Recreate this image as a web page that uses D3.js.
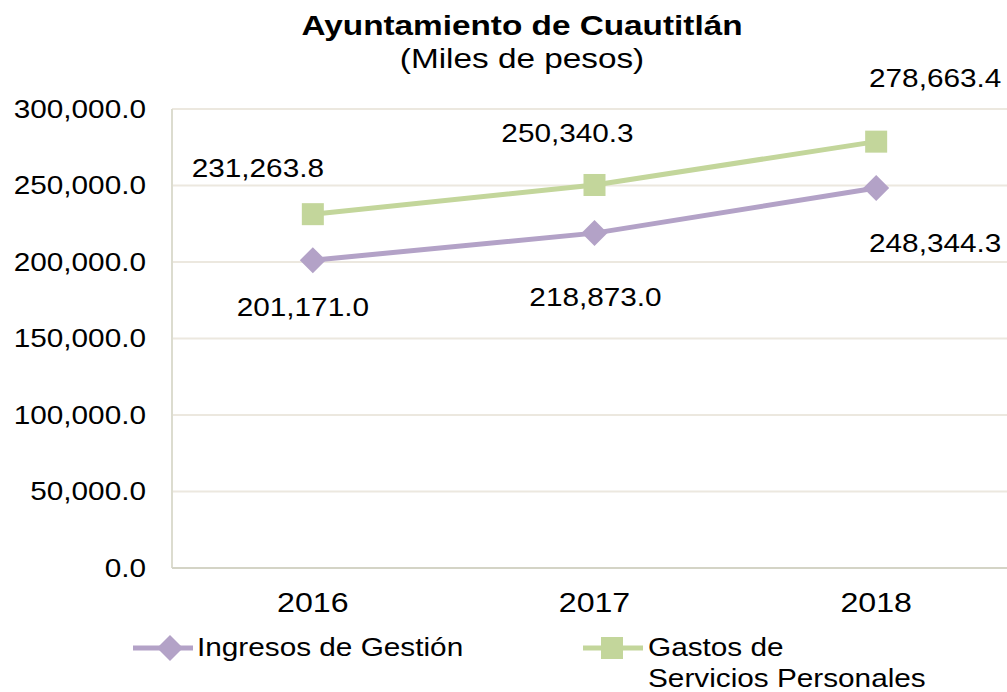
<!DOCTYPE html>
<html>
<head>
<meta charset="utf-8">
<script src="https://cdn.jsdelivr.net/npm/d3@7"></script>
<style>
  body { margin: 0; background: #fff; }
  svg { font-family: "Liberation Sans", Arial, sans-serif; }
</style>
</head>
<body>
<div id="chart"></div>
<script>
const years = ["2016", "2017", "2018"];
const ingresos = [201171.0, 218873.0, 248344.3];
const gastos = [231263.8, 250340.3, 278663.4];
const yTicks = [0, 50000, 100000, 150000, 200000, 250000, 300000];

const W = 1007, H = 692;
const margin = { top: 109, left: 172, bottom: 124 };
const plotW = 845, plotH = H - margin.top - margin.bottom;
const SX = 1.19; // text in the original is stretched horizontally

const svg = d3.select("#chart").append("svg")
    .attr("width", W)
    .attr("height", H);

const x = d3.scaleBand().domain(years).range([margin.left, margin.left + plotW]);
const y = d3.scaleLinear().domain([0, 300000]).range([margin.top + plotH, margin.top]);
const fmt = d3.format(",.1f");

// stretched text helper
function label(g, tx, ty, txt, size, anchor, bold) {
    const t = g.append("text")
        .attr("transform", `translate(${tx},${ty}) scale(${SX},1)`)
        .attr("dy", "0.35em")
        .attr("text-anchor", anchor || "middle")
        .style("font-size", size + "px")
        .attr("fill", "#000")
        .text(txt);
    if (bold) t.style("font-weight", "bold");
    return t;
}

// gridlines
svg.append("g").selectAll("line")
    .data(yTicks.filter(d => d > 0))
    .enter().append("line")
    .attr("x1", margin.left).attr("x2", margin.left + plotW)
    .attr("y1", d => y(d)).attr("y2", d => y(d))
    .attr("stroke", "#ece8df").attr("stroke-width", 2);

// axes lines
svg.append("line")
    .attr("x1", margin.left).attr("x2", margin.left)
    .attr("y1", y(300000)).attr("y2", y(0))
    .attr("stroke", "#dcdccf").attr("stroke-width", 2);
svg.append("line")
    .attr("x1", margin.left).attr("x2", margin.left + plotW)
    .attr("y1", y(0)).attr("y2", y(0))
    .attr("stroke", "#d4d4c6").attr("stroke-width", 2);

// y tick labels
const yl = svg.append("g");
yTicks.forEach(d => label(yl, 146, y(d), fmt(d), 25, "end"));

// x tick labels
const xl = svg.append("g");
years.forEach(d => label(xl, x(d) + x.bandwidth() / 2, 603, d, 27));

const cx = d => x(d) + x.bandwidth() / 2;
const line = d3.line().x(d => cx(d[0])).y(d => y(d[1]));

const series = [
    { name: "ingresos", values: ingresos, color: "#b3a2c7", marker: "diamond" },
    { name: "gastos", values: gastos, color: "#c3d69b", marker: "square" }
];

function drawMarker(g, type, px, py, color) {
    if (type === "square") {
        g.append("rect")
            .attr("x", px - 11).attr("y", py - 11)
            .attr("width", 22).attr("height", 22)
            .attr("fill", color);
    } else {
        g.append("path")
            .attr("d", `M${px},${py - 13}L${px + 13},${py}L${px},${py + 13}L${px - 13},${py}Z`)
            .attr("fill", color);
    }
}

series.forEach(s => {
    const pts = years.map((yr, i) => [yr, s.values[i]]);
    svg.append("path")
        .datum(pts)
        .attr("d", line)
        .attr("fill", "none")
        .attr("stroke", s.color)
        .attr("stroke-width", 5);
    const g = svg.append("g");
    pts.forEach(p => drawMarker(g, s.marker, cx(p[0]), y(p[1]), s.color));
});

// data labels
const gastosOffsets = [[-55, -46], [-27, -52], [59, -63]];
const ingresosOffsets = [[-10, 47], [1, 64], [59, 55]];
const dl = svg.append("g");
gastos.forEach((d, i) => label(dl, cx(years[i]) + gastosOffsets[i][0], y(d) + gastosOffsets[i][1], fmt(d), 25));
ingresos.forEach((d, i) => label(dl, cx(years[i]) + ingresosOffsets[i][0], y(d) + ingresosOffsets[i][1], fmt(d), 25));

// title
label(svg, 522, 25, "Ayuntamiento de Cuautitlán", 28, "middle", true);
label(svg, 522, 58, "(Miles de pesos)", 28);

// legend
const leg = svg.append("g");
leg.append("line").attr("x1", 133).attr("x2", 193).attr("y1", 648).attr("y2", 648)
    .attr("stroke", "#b3a2c7").attr("stroke-width", 5);
drawMarker(leg, "diamond", 170, 648, "#b3a2c7");
label(leg, 197, 647, "Ingresos de Gestión", 25, "start");

leg.append("line").attr("x1", 583).attr("x2", 643).attr("y1", 648).attr("y2", 648)
    .attr("stroke", "#c3d69b").attr("stroke-width", 5);
drawMarker(leg, "square", 612, 648, "#c3d69b");
label(leg, 648, 647, "Gastos de", 25, "start");
label(leg, 648, 678, "Servicios Personales", 25, "start");
</script>
</body>
</html>
